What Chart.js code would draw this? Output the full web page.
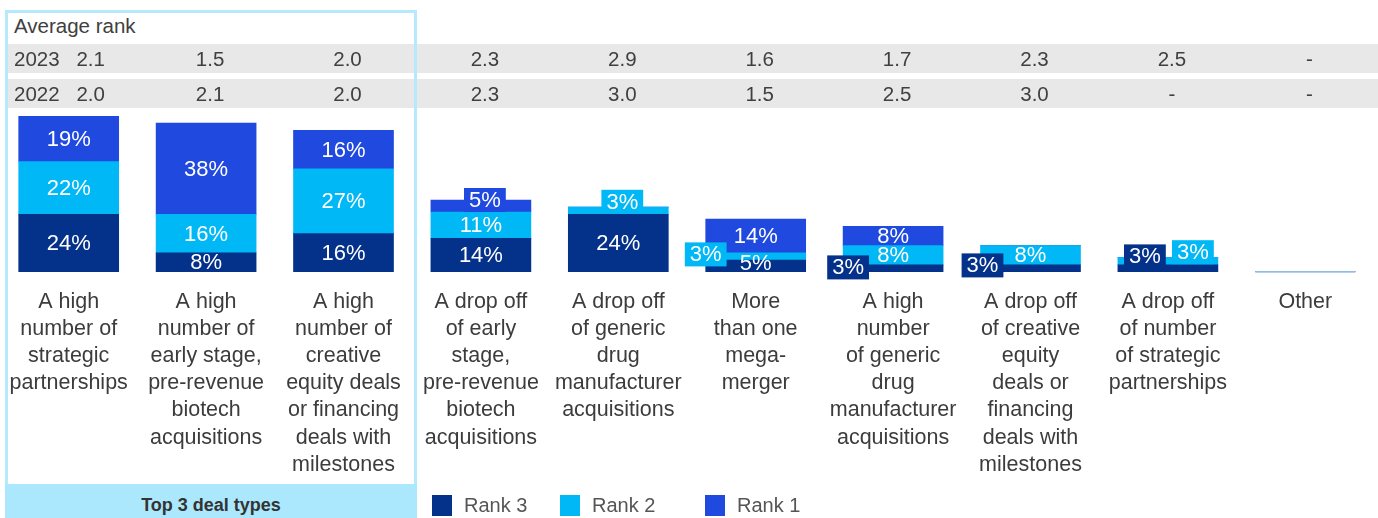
<!DOCTYPE html>
<html>
<head>
<meta charset="utf-8">
<script src="https://cdn.jsdelivr.net/npm/chart.js@4.4.1/dist/chart.umd.min.js"></script>
<style>
  body { margin: 0; background: #fff; font-family: "Liberation Sans", Arial, sans-serif; }
  #wrap { position: relative; width: 1378px; height: 518px; overflow: hidden; }
  .band { position: absolute; left: 8px; width: 1370px; height: 29px; background: #e8e8e8; }
  #highlight { position: absolute; left: 5px; top: 10px; width: 412px; height: 477px; box-sizing: border-box; border: 3px solid #b4eafc; }
  #highlightFoot { position: absolute; left: 5px; top: 484px; width: 412px; height: 34px; background: #ace8fd;
    font-weight: bold; font-size: 18px; color: #333; text-align: center; line-height: 42px; }
  #chart { position: absolute; left: -10px; top: 0; }
  .cell { position: absolute; font-size: 20.5px; color: #404040; transform: translateX(-50%); line-height: 29px; white-space: nowrap; }
  .rowhead { position: absolute; left: 14px; font-size: 20.5px; color: #404040; line-height: 29px; }
  #legend { position: absolute; left: 432px; top: 495px; display: flex; }
  .legItem { display: flex; align-items: center; height: 21px; }
  .legBox { width: 20px; height: 21px; margin-right: 12px; }
  .legText { font-family: "Liberation Sans Narrow", "Liberation Sans", sans-serif; font-size: 20px; color: #555; }
</style>
</head>
<body>
<div id="wrap">
  <div class="rowhead" style="top:11px">Average rank</div>
  <div class="band" style="top:44px"></div>
  <div class="band" style="top:79px"></div>
  <div id="highlight"></div>
  <div id="highlightFoot">Top 3 deal types</div>
  <canvas id="chart" width="1394" height="518"></canvas>
  <div id="table"></div>
  <div id="legend"></div>
</div>
<script>
// --- DATA ---
const categories = [
  ['A high', 'number of', 'strategic', 'partnerships'],
  ['A high', 'number of', 'early stage,', 'pre-revenue', 'biotech', 'acquisitions'],
  ['A high', 'number of', 'creative', 'equity deals', 'or financing', 'deals with', 'milestones'],
  ['A drop off', 'of early', 'stage,', 'pre-revenue', 'biotech', 'acquisitions'],
  ['A drop off', 'of generic', 'drug', 'manufacturer', 'acquisitions'],
  ['More', 'than one', 'mega-', 'merger'],
  ['A high', 'number', 'of generic', 'drug', 'manufacturer', 'acquisitions'],
  ['A drop off', 'of creative', 'equity', 'deals or', 'financing', 'deals with', 'milestones'],
  ['A drop off', 'of number', 'of strategic', 'partnerships'],
  ['Other']
];
const rank3 = [24, 8, 16, 14, 24, 5, 3, 3, 3, 0];
const rank2 = [22, 16, 27, 11, 3, 3, 8, 8, 3, 0];
const rank1 = [19, 38, 16, 5, 0, 14, 8, 0, 0, 0];
const avgRank2023 = ['2.1', '1.5', '2.0', '2.3', '2.9', '1.6', '1.7', '2.3', '2.5', '-'];
const avgRank2022 = ['2.0', '2.1', '2.0', '2.3', '3.0', '1.5', '2.5', '3.0', '-', '-'];
const years = ['2023', '2022'];

// --- STYLE ---
const colors = { rank3: '#04318a', rank2: '#00b8f5', rank1: '#1f49df' };
const FONT = '"Liberation Sans", Arial, sans-serif';
// label placement for thin segments: [dx, dy, boxed]
const labelNudges = {
  '2-3': [4, -6, true],
  '1-4': [4, -9, true],
  '1-5': [-50, -2, true],
  '0-5': [0, -3, false],
  '0-6': [-45, -1, true],
  '0-7': [-48, -3, true],
  '0-8': [-23, -12, true],
  '1-8': [25, -9, true]
};

const segmentLabels = {
  id: 'segmentLabels',
  afterDatasetsDraw(chart) {
    const ctx = chart.ctx;
    const yScale = chart.scales.y;
    ctx.save();
    // empty category gets a thin baseline
    chart.data.labels.forEach((l, i) => {
      const total = chart.data.datasets.reduce((s, ds) => s + ds.data[i], 0);
      if (total === 0) {
        const x = chart.scales.x.getPixelForValue(i);
        const y = yScale.getPixelForValue(0);
        ctx.strokeStyle = '#9dc3e6';
        ctx.lineWidth = 1.5;
        ctx.beginPath();
        ctx.moveTo(x - 50, y);
        ctx.lineTo(x + 50, y);
        ctx.stroke();
      }
    });
    ctx.font = '22px ' + FONT;
    ctx.textAlign = 'center';
    ctx.textBaseline = 'middle';
    chart.data.datasets.forEach((ds, di) => {
      chart.getDatasetMeta(di).data.forEach((bar, i) => {
        const v = ds.data[i];
        if (!v) return;
        const text = v + '%';
        let x = bar.x;
        let y = (bar.y + bar.base) / 2;
        const n = labelNudges[di + '-' + i];
        if (n) {
          x += n[0];
          y += n[1];
          if (n[2]) {
            const w = ctx.measureText(text).width + 10;
            ctx.fillStyle = ds.backgroundColor;
            ctx.fillRect(x - w / 2, y - 12, w, 24);
          }
        }
        ctx.fillStyle = '#ffffff';
        ctx.fillText(text, x, y + 1);
      });
    });
    ctx.restore();
  }
};

Chart.defaults.font.family = FONT;

const chart = new Chart(document.getElementById('chart'), {
  type: 'bar',
  data: {
    labels: categories,
    datasets: [
      { label: 'Rank 3', data: rank3, backgroundColor: colors.rank3 },
      { label: 'Rank 2', data: rank2, backgroundColor: colors.rank2 },
      { label: 'Rank 1', data: rank1, backgroundColor: colors.rank1 }
    ]
  },
  options: {
    responsive: false,
    animation: false,
    devicePixelRatio: 1,
    layout: { padding: { left: 10, right: 10, top: 116, bottom: 27.6 } },
    datasets: { bar: { barThickness: 100 } },
    plugins: { legend: { display: false }, tooltip: { enabled: false } },
    scales: {
      x: {
        stacked: true,
        grid: { display: false, drawTicks: false },
        border: { display: false },
        ticks: {
          autoSkip: false,
          maxRotation: 0,
          padding: 16,
          color: '#3c3c3c',
          font: { size: 21.5, lineHeight: '27.2px' }
        },
        // the tall labels would otherwise be capped at half the canvas height
        afterFit(scale) { scale.height = 7 * 27.2 + 28; }
      },
      y: { stacked: true, display: false, min: 0, max: 65 }
    }
  },
  plugins: [segmentLabels]
});

// --- AVERAGE RANK TABLE (positioned on the category axis) ---
const table = document.getElementById('table');
const rowTops = [44, 79];
[avgRank2023, avgRank2022].forEach((row, r) => {
  const head = document.createElement('div');
  head.className = 'rowhead';
  head.style.top = rowTops[r] + 'px';
  head.textContent = years[r];
  table.appendChild(head);
  row.forEach((val, i) => {
    const cell = document.createElement('div');
    cell.className = 'cell';
    const cx = chart.scales.x.getPixelForValue(i) - 10 + (i === 0 ? 22 : 4);
    cell.style.left = cx + 'px';
    cell.style.top = rowTops[r] + 'px';
    cell.textContent = val;
    table.appendChild(cell);
  });
});

// --- LEGEND ---
const legend = document.getElementById('legend');
const legWidths = [128, 145, 100];
chart.data.datasets.forEach((ds, i) => {
  const item = document.createElement('div');
  item.className = 'legItem';
  item.style.width = legWidths[i] + 'px';
  item.innerHTML = '<div class="legBox" style="background:' + ds.backgroundColor + '"></div><span class="legText">' + ds.label + '</span>';
  legend.appendChild(item);
});
</script>
</body>
</html>
